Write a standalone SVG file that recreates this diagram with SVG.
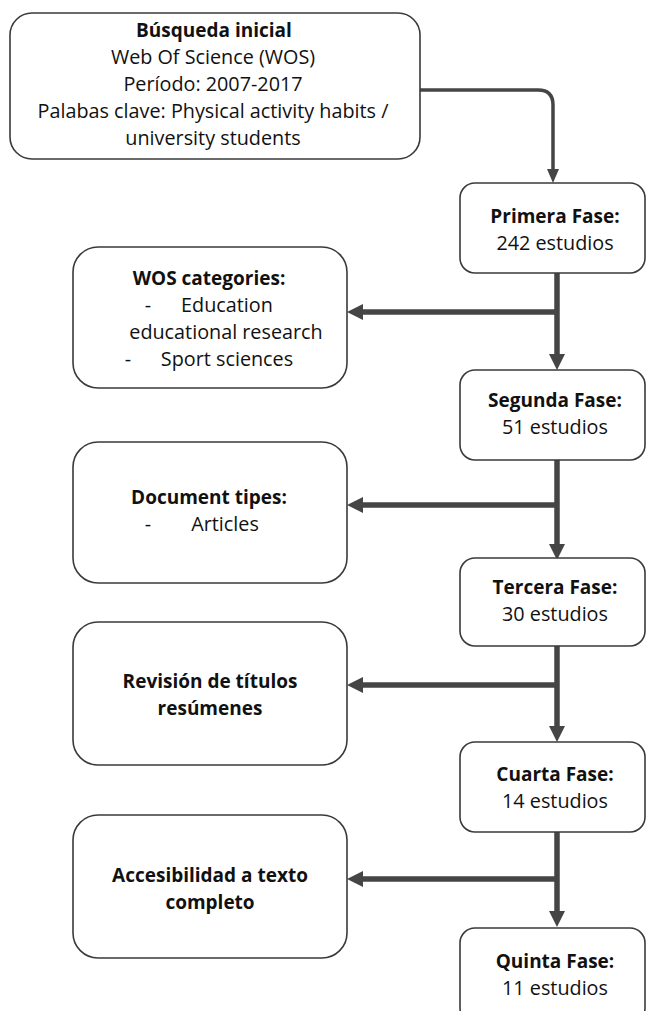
<svg xmlns="http://www.w3.org/2000/svg" width="646" height="1011" viewBox="0 0 646 1011">
<style>
.box{fill:#ffffff;stroke:#3a3a3a;stroke-width:1.6}
.t{font-family:"Open Sans","Noto Sans","Liberation Sans",sans-serif;font-size:19.8px;fill:#111;text-anchor:middle}
.b{font-weight:bold;font-size:19px}
.c{fill:none;stroke:#454545;stroke-width:5.5}
.c1{fill:none;stroke:#454545;stroke-width:3.5}
</style>
<defs>
<marker id="ah" markerUnits="userSpaceOnUse" markerWidth="16" markerHeight="16" viewBox="0 0 16 16" refX="3" refY="8" orient="auto">
<path d="M0,0 L16,8 L0,16 z" fill="#454545"/>
</marker>
<marker id="ah1" markerUnits="userSpaceOnUse" markerWidth="14" markerHeight="14" viewBox="0 0 14 14" refX="3" refY="7" orient="auto">
<path d="M0,1 L14,7 L0,13 z" fill="#454545"/>
</marker>
</defs>
<rect width="646" height="1011" fill="#ffffff"/>
<g id="connectors">
<path class="c1" d="M420,90 H538 Q553,90 553,105 V172" marker-end="url(#ah1)"/>
<path class="c" d="M557,273 V357" marker-end="url(#ah)"/>
<path class="c" d="M557,312 H360" marker-end="url(#ah)"/>
<path class="c" d="M557,460 V547" marker-end="url(#ah)"/>
<path class="c" d="M557,505 H360" marker-end="url(#ah)"/>
<path class="c" d="M557,646 V729" marker-end="url(#ah)"/>
<path class="c" d="M557,685 H360" marker-end="url(#ah)"/>
<path class="c" d="M557,832 V914" marker-end="url(#ah)"/>
<path class="c" d="M557,879 H360" marker-end="url(#ah)"/>
</g>
<g id="busqueda">
<rect class="box" x="10" y="13" width="410" height="146" rx="22"/>
<text class="t b" x="214" y="37">Búsqueda inicial</text>
<text class="t" x="213" y="64">Web Of Science (WOS)</text>
<text class="t" x="213" y="91">Período: 2007-2017</text>
<text class="t" x="213" y="118">Palabas clave: Physical activity habits /</text>
<text class="t" x="213" y="145">university students</text>
</g>
<g id="primera">
<rect class="box" x="460" y="183" width="185" height="90" rx="15"/>
<text class="t b" x="555" y="223">Primera Fase:</text>
<text class="t" x="555" y="250">242 estudios</text>
</g>
<g id="wos">
<rect class="box" x="73" y="247" width="274" height="141" rx="25"/>
<text class="t b" x="209" y="285">WOS categories:</text>
<text class="t" x="148" y="311.5">-</text>
<text class="t" x="227" y="311.5">Education</text>
<text class="t" x="226" y="338.5">educational research</text>
<text class="t" x="128" y="365.5">-</text>
<text class="t" x="227" y="365.5">Sport sciences</text>
</g>
<g id="segunda">
<rect class="box" x="460" y="370" width="185" height="90" rx="15"/>
<text class="t b" x="555" y="407">Segunda Fase:</text>
<text class="t" x="555" y="434">51 estudios</text>
</g>
<g id="document">
<rect class="box" x="73" y="442" width="274" height="141" rx="25"/>
<text class="t b" x="209" y="504">Document tipes:</text>
<text class="t" x="148" y="531">-</text>
<text class="t" x="225" y="531">Articles</text>
</g>
<g id="tercera">
<rect class="box" x="460" y="558" width="185" height="88" rx="15"/>
<text class="t b" x="555" y="594">Tercera Fase:</text>
<text class="t" x="555" y="621">30 estudios</text>
</g>
<g id="revision">
<rect class="box" x="73" y="622" width="274" height="143" rx="25"/>
<text class="t b" x="210" y="688">Revisión de títulos</text>
<text class="t b" x="210" y="714.5">resúmenes</text>
</g>
<g id="cuarta">
<rect class="box" x="460" y="742" width="185" height="90" rx="15"/>
<text class="t b" x="555" y="781">Cuarta Fase:</text>
<text class="t" x="555" y="808">14 estudios</text>
</g>
<g id="accesibilidad">
<rect class="box" x="73" y="815" width="274" height="143" rx="25"/>
<text class="t b" x="210" y="882">Accesibilidad a texto</text>
<text class="t b" x="210" y="908.5">completo</text>
</g>
<g id="quinta">
<rect class="box" x="460" y="928" width="185" height="95" rx="15"/>
<text class="t b" x="555" y="968">Quinta Fase:</text>
<text class="t" x="555" y="995">11 estudios</text>
</g>
</svg>
